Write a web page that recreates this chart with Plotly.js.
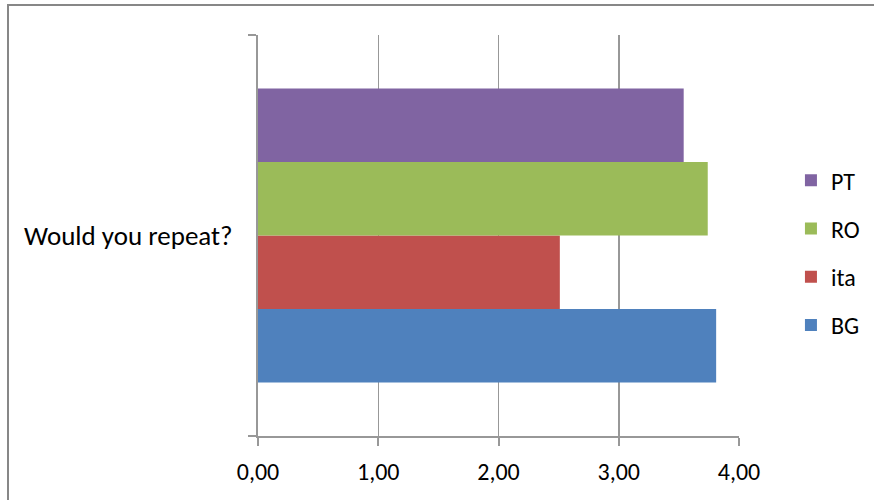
<!DOCTYPE html>
<html>
<head>
<meta charset="utf-8">
<script src="https://cdn.plot.ly/plotly-3.0.1.min.js"></script>
<style>
  html, body { margin: 0; padding: 0; background: #ffffff; }
  #frame { position: absolute; left: 7px; top: 4px; width: 900px; height: 520px;
           border-left: 2px solid #878787; border-top: 2px solid #878787; }
  #chart { position: absolute; left: 0; top: 0; width: 874px; height: 500px; }
</style>
</head>
<body>
<div id="frame"></div>
<div id="chart"></div>
<script>
// Survey answer: average score per country
const question = ["Would you repeat?"];
const countries = ["BG", "ita", "RO", "PT"];
const colors = ["#4F81BD", "#C0504D", "#9BBB59", "#8064A2"];
const scores = {
  BG: [3.81],
  ita: [2.51],
  RO: [3.74],
  PT: [3.54]
};
const xTicks = [0, 1, 2, 3, 4];

const FONT = "Carlito, Lato, 'Liberation Sans', sans-serif";
const GRID = "#989898";

// bars stack bottom-up in trace order; the legend lists them top-down
const traces = countries.map((c, i) => ({
  type: "bar",
  orientation: "h",
  name: c,
  y: question,
  x: scores[c],
  marker: { color: colors[i], line: { width: 0 } },
  legendgroup: c,
  legendrank: countries.length - i,
  hoverinfo: "x+name"
}));

const layout = {
  width: 874,
  height: 500,
  margin: { l: 258, r: 135, t: 35, b: 64, autoexpand: false },
  paper_bgcolor: "rgba(0,0,0,0)",
  plot_bgcolor: "rgba(0,0,0,0)",
  separators: ",.",
  font: { family: FONT, size: 24, color: "#000000" },
  barmode: "group",
  bargap: 0.267,
  bargroupgap: 0,
  xaxis: {
    range: [0, 4],
    tickvals: xTicks,
    tickformat: ".2f",
    tickfont: { family: FONT, size: 24, color: "#000000" },
    showgrid: true,
    gridcolor: GRID,
    gridwidth: 1.5,
    zeroline: false,
    showline: true,
    linecolor: GRID,
    linewidth: 2,
    ticks: "outside",
    ticklen: 8,
    tickwidth: 2,
    tickcolor: GRID,
    ticklabelstandoff: 5,
    fixedrange: true
  },
  yaxis: {
    type: "category",
    range: [-0.5, 0.5],
    tickfont: { family: FONT, size: 27, color: "#000000" },
    showgrid: false,
    zeroline: false,
    showline: true,
    linecolor: GRID,
    linewidth: 2,
    ticks: "outside",
    tickson: "boundaries",
    ticklen: 8,
    tickwidth: 2,
    tickcolor: GRID,
    ticklabelstandoff: 18,
    fixedrange: true
  },
  showlegend: true,
  legend: {
    traceorder: "grouped",
    tracegroupgap: 14,
    x: 1.108,
    xanchor: "left",
    y: 0.457,
    yanchor: "middle",
    bgcolor: "rgba(0,0,0,0)",
    font: { family: FONT, size: 24, color: "#000000" }
  }
};

Plotly.newPlot("chart", traces, layout, { staticPlot: true, displayModeBar: false });
</script>
</body>
</html>
